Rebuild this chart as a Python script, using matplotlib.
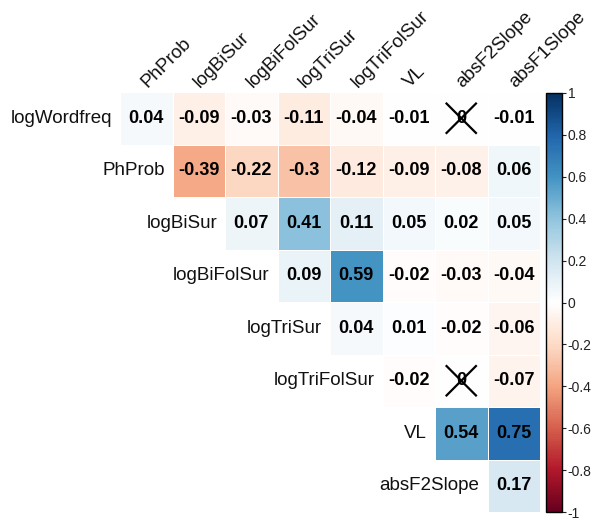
import numpy as np
import matplotlib
matplotlib.use('Agg')
import matplotlib.pyplot as plt
from matplotlib.colors import LinearSegmentedColormap, Normalize
from matplotlib.cm import ScalarMappable

plt.rcParams['font.family'] = ['Liberation Sans', 'DejaVu Sans']

row_names = ['logWordfreq', 'PhProb', 'logBiSur', 'logBiFolSur',
             'logTriSur', 'logTriFolSur', 'VL', 'absF2Slope']
col_names = ['PhProb', 'logBiSur', 'logBiFolSur', 'logTriSur',
             'logTriFolSur', 'VL', 'absF2Slope', 'absF1Slope']

# upper triangle, row i starts at column i
r_logWordfreq = [0.04, -0.09, -0.03, -0.11, -0.04, -0.01, 0.0, -0.01]
r_PhProb = [-0.39, -0.22, -0.3, -0.12, -0.09, -0.08, 0.06]
r_logBiSur = [0.07, 0.41, 0.11, 0.05, 0.02, 0.05]
r_logBiFolSur = [0.09, 0.59, -0.02, -0.03, -0.04]
r_logTriSur = [0.04, 0.01, -0.02, -0.06]
r_logTriFolSur = [-0.02, 0.0, -0.07]
r_VL = [0.54, 0.75]
r_absF2Slope = [0.17]
rows = [r_logWordfreq, r_PhProb, r_logBiSur, r_logBiFolSur,
        r_logTriSur, r_logTriFolSur, r_VL, r_absF2Slope]

# non-significant cells (row, col)
crossed = [(0, 6), (5, 6)]

col2 = ["#67001F", "#B2182B", "#D6604D", "#F4A582", "#FDDBC7", "#FFFFFF",
        "#D1E5F0", "#92C5DE", "#4393C3", "#2166AC", "#053061"]
cmap = LinearSegmentedColormap.from_list('rdbu', col2, N=200)
norm = Normalize(-1, 1)

n = len(col_names)
M = np.full((n, n), np.nan)
for i, r in enumerate(rows):
    M[i, i:] = r

fig = plt.figure(figsize=(5.93, 5.20), dpi=100)
ax = fig.add_axes([120/593, 1-512/520, 420/593, 420/520])
ax.pcolormesh(np.ma.masked_invalid(M), cmap=cmap, norm=norm,
              edgecolors='white', linewidth=0.4)
ax.set_xlim(0, n)
ax.set_ylim(n, 0)
ax.axis('off')

for i in range(n):
    for j in range(i, n):
        v = M[i, j]
        txt = '0' if v == 0 else ('%g' % v)
        ax.text(j+0.5, i+0.5, txt, ha='center', va='center',
                fontsize=13, fontweight='bold', color='black')

for (i, j) in crossed:
    d = 0.28
    ax.plot([j+0.5-d, j+0.5+d], [i+0.5-d, i+0.5+d], color='black', lw=1.6)
    ax.plot([j+0.5-d, j+0.5+d], [i+0.5+d, i+0.5-d], color='black', lw=1.6)

for i, name in enumerate(row_names):
    ax.text(i-0.15, i+0.5, name, ha='right', va='center',
            fontsize=13.5, color='#111111')

for j, name in enumerate(col_names):
    ax.text(j+0.58, -0.02, name, ha='left', va='bottom', rotation=45,
            rotation_mode='anchor', fontsize=13.5, color='#111111')

cax = fig.add_axes([546/593, 1-512/520, 16/593, 419/520])
cb = fig.colorbar(ScalarMappable(norm=norm, cmap=cmap), cax=cax)
ticks = np.round(np.arange(-1, 1.01, 0.2), 1) + 0.0
cb.set_ticks(ticks)
cb.set_ticklabels(['%g' % t for t in ticks])
cb.outline.set_linewidth(1.0)
cax.tick_params(labelsize=10, length=3, width=0.8, pad=1, colors='#222222')

fig.savefig('out.png', dpi=100)
